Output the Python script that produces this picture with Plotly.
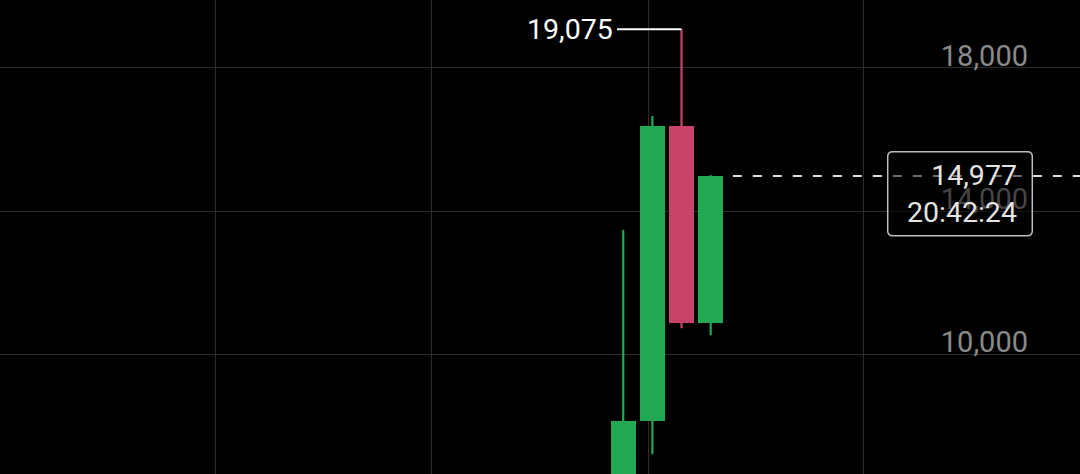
import plotly.graph_objects as go

# ---- data ----
candle_idx = [0, 1, 2, 3]
open_ = [5500, 8130, 16370, 10880]
high = [13470, 16650, 19075, 15000]
low = [5000, 7210, 10730, 10530]
close = [8130, 16370, 10880, 14977]

ytick_vals = [10000, 14000, 18000]
ytick_text = ["10,000", "14,000", "18,000"]
xgrid_vals = [-13.98, -6.57, 0.858, 8.23]

last_price_text = "14,977"
last_time_text = "20:42:24"

GREEN = "#23a854"
RED = "#c8426a"

colors = [GREEN if c >= o else RED for o, c in zip(open_, close)]

fig = go.Figure()

# wicks
for col in (GREEN, RED):
    xs, ys = [], []
    for i, o, h, l, c, cc in zip(candle_idx, open_, high, low, close, colors):
        if cc == col:
            xs += [i, i, None]
            ys += [l, h, None]
    fig.add_trace(go.Scatter(x=xs, y=ys, mode="lines",
                             line=dict(color=col, width=2.2),
                             hoverinfo="skip"))

# bodies
fig.add_trace(go.Bar(
    x=candle_idx,
    base=[min(o, c) for o, c in zip(open_, close)],
    y=[abs(c - o) for o, c in zip(open_, close)],
    width=0.857,
    marker=dict(color=colors, line=dict(width=0)),
    hoverinfo="skip",
))

x_min, x_max = -21.38, 15.67
y_min, y_max = 6659, 19890

# last price dashed line
last = candle_idx[-1]
fig.add_trace(go.Scatter(
    x=[last + 0.76, x_max], y=[close[-1], close[-1]], mode="lines",
    line=dict(color="#dcdcdc", width=2, dash="9px,11px"),
    hoverinfo="skip",
))

# high annotation
hi_i = max(range(len(high)), key=lambda k: high[k])
fig.add_annotation(
    x=candle_idx[hi_i], y=high[hi_i], xref="x", yref="y",
    text=f"{high[hi_i]:,}", showarrow=True, arrowhead=0, arrowwidth=2,
    arrowcolor="#ffffff", ax=-112, ay=0, borderpad=4,
    font=dict(family="Roboto", size=28.5, color="#ffffff"),
)

# last price box
bx0, bx1 = 887.7 / 1080, 1032.3 / 1080
by0, by1 = 1 - 235.7 / 474, 1 - 151.7 / 474
r = 5
W, H = 1080, 474
rx, ry = r / W, r / H
path = (f"M {bx0+rx} {by0} L {bx1-rx} {by0} Q {bx1} {by0} {bx1} {by0+ry} "
        f"L {bx1} {by1-ry} Q {bx1} {by1} {bx1-rx} {by1} "
        f"L {bx0+rx} {by1} Q {bx0} {by1} {bx0} {by1-ry} "
        f"L {bx0} {by0+ry} Q {bx0} {by0} {bx0+rx} {by0} Z")
fig.add_shape(type="path", path=path, xref="paper", yref="paper",
              fillcolor="rgba(0,0,0,0.5)", line=dict(color="#bdbdbd", width=1.5),
              layer="above")
fig.add_annotation(
    x=1019 / 1080, y=1 - 194 / 474, xref="paper", yref="paper",
    xanchor="right", yanchor="middle", align="right", showarrow=False,
    text=f"{last_price_text}<br>{last_time_text}",
    font=dict(family="Roboto", size=28.5, color="#e4e4e4"),
)

fig.update_layout(
    width=1080, height=474,
    margin=dict(l=0, r=0, t=0, b=0),
    paper_bgcolor="#000000", plot_bgcolor="#000000",
    showlegend=False, hovermode=False, bargap=0,
    font=dict(family="Roboto"),
)
fig.update_xaxes(range=[x_min, x_max], tickvals=xgrid_vals, showticklabels=False,
                 showgrid=True, gridcolor="#2c2c2c", gridwidth=1, zeroline=False,
                 showline=False, ticks="")
fig.update_yaxes(range=[y_min, y_max], side="right", tickvals=ytick_vals,
                 ticktext=ytick_text, ticklabelposition="inside top",
                 ticklabelstandoff=49, ticklabelshift=8,
                 tickfont=dict(family="Roboto", size=29, color="#8a8a8a"),
                 showgrid=True, gridcolor="#2c2c2c", gridwidth=1, zeroline=False,
                 showline=False, ticks="")

fig.write_html("out.html", config={"displayModeBar": False},
               post_script="document.body.style.margin='0';document.body.style.background='#000';")
